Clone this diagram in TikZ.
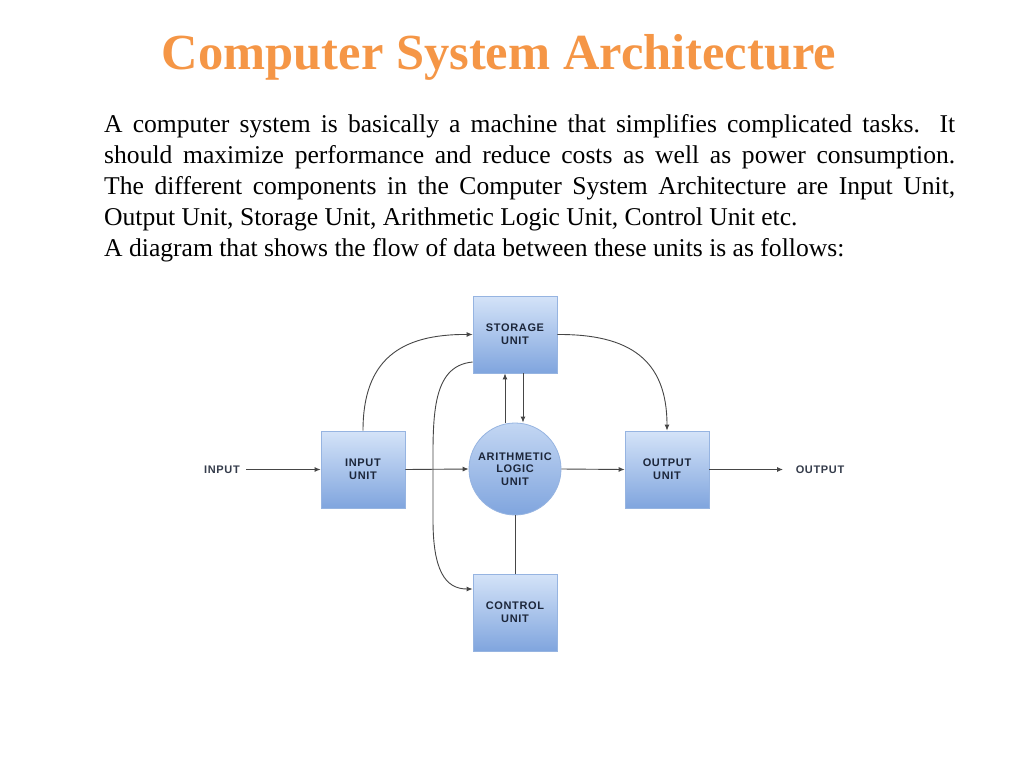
\documentclass[tikz,border=0pt]{standalone}
\usepackage{fontspec}
\setmainfont{Liberation Serif}
\newfontfamily\boxfont[LetterSpace=6]{Liberation Sans}
\usetikzlibrary{arrows.meta,shadings,calc}
\definecolor{titleorange}{RGB}{245,150,70}
\definecolor{boxtop}{RGB}{212,227,248}
\definecolor{boxbot}{RGB}{128,165,222}
\definecolor{boxedge}{RGB}{150,180,225}
\definecolor{boxtext}{RGB}{28,38,58}
\definecolor{linegray}{RGB}{70,70,70}
\tikzset{
  unitbox/.style={rectangle, minimum width=84pt, minimum height=77pt, draw=boxedge, line width=0.8pt,
    top color=boxtop, bottom color=boxbot, align=center, text=boxtext,
    font=\boxfont\bfseries\fontsize{11}{12.8}\selectfont, inner sep=0pt},
  unitcircle/.style={circle, minimum size=92pt, draw=boxedge, line width=0.8pt,
    top color=boxtop!80!boxbot, bottom color=boxbot, align=center, text=boxtext,
    font=\boxfont\bfseries\fontsize{11}{12.5}\selectfont, inner sep=0pt},
  plainlabel/.style={text=boxtext!75!gray, font=\boxfont\bfseries\fontsize{11}{12}\selectfont, inner sep=0pt},
  flow/.style={draw=linegray, line width=0.9pt, -{Latex[length=6pt,width=5pt]}},
  plainline/.style={draw=linegray, line width=0.9pt},
  bodyline/.style={anchor=base west, inner sep=0pt, font=\fontsize{25.6}{30}\selectfont},
}
\begin{document}
\begin{tikzpicture}[x=1pt,y=-1pt]
\useasboundingbox (0,0) rectangle (1024,768);
\fill[white] (0,0) rectangle (1024,768);
% title
\node[anchor=base, inner sep=0pt, text=titleorange, font=\bfseries\fontsize{50.5}{55}\selectfont] (title) at (499,69) {Computer System Architecture};
% paragraph
\node[bodyline] (l1) at (104,132) {\makebox[851pt][s]{A computer system is basically a machine that simplifies complicated tasks. It}};
\node[bodyline] (l2) at (104,163) {\makebox[851pt][s]{should maximize performance and reduce costs as well as power consumption.}};
\node[bodyline] (l3) at (104,194) {\makebox[851pt][s]{The different components in the Computer System Architecture are Input Unit,}};
\node[bodyline] (l4) at (104,225) {Output Unit, Storage Unit, Arithmetic Logic Unit, Control Unit etc.};
\node[bodyline] (l5) at (104,256) {A diagram that shows the flow of data between these units is as follows:};
% units
\node[unitbox] (storage) at (515,334.5) {STORAGE\\UNIT};
\node[unitbox] (input) at (363,469.5) {INPUT\\UNIT};
\node[unitcircle] (alu) at (515,469) {ARITHMETIC\\LOGIC\\UNIT};
\node[unitbox] (output) at (667,469.5) {OUTPUT\\UNIT};
\node[unitbox] (control) at (515,612.5) {CONTROL\\UNIT};
\node[plainlabel] (inlabel) at (222,470) {INPUT};
\node[plainlabel] (outlabel) at (820,470) {OUTPUT};
\coordinate (inStart) at (246,469.5);
\coordinate (outEnd) at (783,469.5);
% connectors
\draw[flow] (inStart) -- (input.west);
\draw[flow] (input.east) -- (alu.west);
\draw[flow] (alu.east) -- (output.west);
\draw[flow] (output.east) -- (outEnd);
\draw[flow] (alu.north -| 505,0) -- (storage.south -| 505,0);
\draw[flow] (storage.south -| 523,0) -- (alu.north -| 523,0);
\draw[plainline] (alu.south) -- (control.north);
\draw[flow] (input.north) .. controls (363,360) and (400,334) .. (storage.west);
\draw[flow] (storage.east) .. controls (630,334) and (667,360) .. (output.north);
\draw[flow] (storage.west |- 0,362) .. controls (430,366) and (433,420) .. (433,480)
   -- (433,520) .. controls (433,570) and (445,589) .. (control.west |- 0,589);
\end{tikzpicture}
\end{document}
